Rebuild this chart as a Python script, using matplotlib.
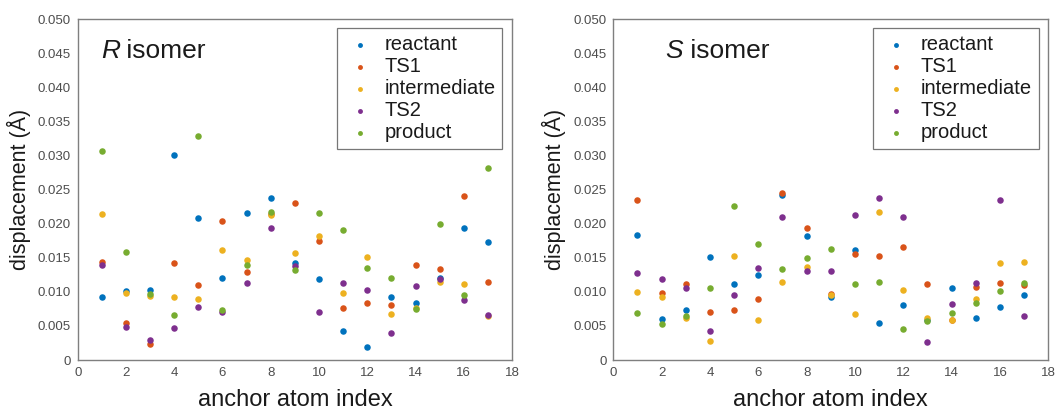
import matplotlib.pyplot as plt
import numpy as np

plt.rcParams['font.family'] = ['Liberation Sans', 'DejaVu Sans']

idx = np.arange(1, 18)
labels = ['reactant', 'TS1', 'intermediate', 'TS2', 'product']
colors = ['#0072BD', '#D95319', '#EDB120', '#7E2F8E', '#77AC30']

# R isomer
r_reactant = [0.0092, 0.0101, 0.0102, 0.0300, 0.0208, 0.0121, 0.0215, 0.0238, 0.0142,
              0.0119, 0.0043, 0.0019, 0.0093, 0.0084, 0.0121, 0.0193, 0.0173]
r_ts1 = [0.0144, 0.0054, 0.0024, 0.0142, 0.0110, 0.0204, 0.0129, 0.0214, 0.0230,
         0.0174, 0.0077, 0.0084, 0.0080, 0.0140, 0.0134, 0.0240, 0.0114]
r_inter = [0.0214, 0.0099, 0.0094, 0.0092, 0.0090, 0.0161, 0.0146, 0.0213, 0.0157,
           0.0182, 0.0099, 0.0151, 0.0067, 0.0077, 0.0115, 0.0112, 0.0064]
r_ts2 = [0.0140, 0.0049, 0.0030, 0.0047, 0.0078, 0.0070, 0.0113, 0.0194, 0.0138,
         0.0071, 0.0113, 0.0102, 0.0040, 0.0109, 0.0119, 0.0088, 0.0066]
r_product = [0.0307, 0.0159, 0.0097, 0.0066, 0.0329, 0.0073, 0.0140, 0.0217, 0.0132,
             0.0216, 0.0190, 0.0135, 0.0121, 0.0075, 0.0199, 0.0096, 0.0282]

# S isomer
s_reactant = [0.0183, 0.0060, 0.0073, 0.0151, 0.0112, 0.0125, 0.0242, 0.0182, 0.0092,
              0.0161, 0.0055, 0.0081, 0.0059, 0.0106, 0.0062, 0.0078, 0.0095]
s_ts1 = [0.0235, 0.0099, 0.0112, 0.0070, 0.0073, 0.0090, 0.0245, 0.0193, 0.0097,
         0.0155, 0.0153, 0.0166, 0.0111, 0.0058, 0.0107, 0.0113, 0.0110]
s_inter = [0.0100, 0.0093, 0.0061, 0.0028, 0.0152, 0.0058, 0.0114, 0.0136, 0.0095,
           0.0068, 0.0217, 0.0103, 0.0061, 0.0058, 0.0090, 0.0142, 0.0144]
s_ts2 = [0.0127, 0.0119, 0.0106, 0.0043, 0.0096, 0.0135, 0.0209, 0.0130, 0.0130,
         0.0212, 0.0237, 0.0210, 0.0026, 0.0082, 0.0113, 0.0234, 0.0064]
s_product = [0.0069, 0.0053, 0.0064, 0.0105, 0.0226, 0.0170, 0.0133, 0.0149, 0.0163,
             0.0112, 0.0114, 0.0046, 0.0057, 0.0069, 0.0084, 0.0101, 0.0113]

fig = plt.figure(figsize=(10.56, 4.11), dpi=100)
ax1 = fig.add_axes([0.0736, 0.124, 0.4113, 0.8297])
ax2 = fig.add_axes([0.5808, 0.124, 0.4119, 0.8297])

panels = [(ax1, [r_reactant, r_ts1, r_inter, r_ts2, r_product], 'R', 0.054),
          (ax2, [s_reactant, s_ts1, s_inter, s_ts2, s_product], 'S', 0.12)]

for ax, series, iso, tx in panels:
    for ys, lab, c in zip(series, labels, colors):
        ax.scatter(idx, ys, s=22, color=c, label=lab, linewidths=0)
    ax.set_xlim(0, 18)
    ax.set_ylim(0, 0.05)
    ax.set_xticks(range(0, 19, 2))
    ax.set_yticks(np.arange(0, 0.0501, 0.005))
    ax.set_yticklabels(['0'] + ['%.3f' % v for v in np.arange(0.005, 0.0501, 0.005)])
    ax.tick_params(length=0, labelsize=9.5, labelcolor='#4d4d4d', pad=5)
    for sp in ax.spines.values():
        sp.set_color('#7f7f7f')
        sp.set_linewidth(1.0)
    ax.set_xlabel('anchor atom index', fontsize=17, color='#1a1a1a', labelpad=7)
    ax.set_ylabel('displacement (Å)', fontsize=15.5, color='#1a1a1a', labelpad=5)
    ax.text(tx, 0.905, iso, style='italic', fontsize=19, transform=ax.transAxes,
            va='center', color='#1a1a1a')
    ax.text(tx + 0.04, 0.905, ' isomer', fontsize=19, transform=ax.transAxes,
            va='center', color='#1a1a1a')
    leg = ax.legend(loc='upper right', bbox_to_anchor=(0.978, 0.974), borderaxespad=0,
                    fontsize=14.5, frameon=True, fancybox=False, markerscale=0.75,
                    handletextpad=0.4, labelspacing=0.15, borderpad=0.35,
                    handlelength=1.6)
    leg.get_frame().set_edgecolor('#555555')
    leg.get_frame().set_linewidth(0.9)
    for t in leg.get_texts():
        t.set_color('#1a1a1a')

plt.savefig('out.png', dpi=100)
